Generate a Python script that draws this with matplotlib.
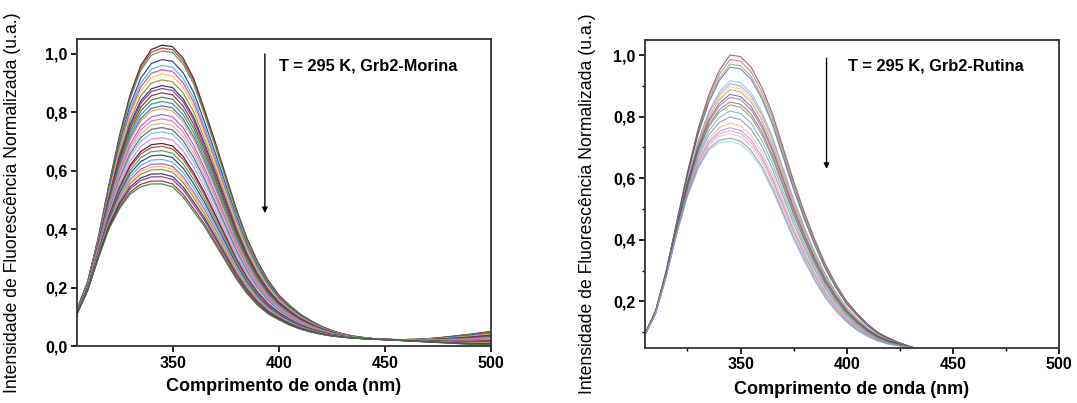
import matplotlib
matplotlib.use("Agg")
import matplotlib.pyplot as plt
from matplotlib.ticker import FixedLocator, FuncFormatter
import numpy as np

plt.rcParams['font.family'] = ['Liberation Sans', 'DejaVu Sans']

# wavelength grid (nm)
wavelength = [305, 310, 315, 320, 325, 330, 335, 340, 345, 350,
              355, 360, 365, 370, 375, 380, 385, 390, 395, 400,
              405, 410, 415, 420, 425, 430, 435, 440, 445, 450,
              455, 460, 465, 470, 475, 480, 485, 490, 495, 500]

# Grb2-Morina: highest and lowest spectra
morina_top = [0.125, 0.22, 0.37, 0.55, 0.72, 0.86, 0.96, 1.015, 1.03, 1.025,
              0.985, 0.915, 0.81, 0.70, 0.585, 0.47, 0.37, 0.29, 0.225, 0.175,
              0.14, 0.11, 0.087, 0.068, 0.053, 0.042, 0.034, 0.029, 0.025, 0.023,
              0.022, 0.022, 0.023, 0.025, 0.028, 0.032, 0.036, 0.04, 0.045, 0.05]
morina_bottom = [0.11, 0.19, 0.30, 0.40, 0.47, 0.52, 0.545, 0.555, 0.555, 0.545,
                 0.51, 0.46, 0.41, 0.35, 0.29, 0.23, 0.18, 0.14, 0.11, 0.09,
                 0.072, 0.058, 0.048, 0.04, 0.034, 0.03, 0.027, 0.025, 0.023, 0.022,
                 0.02, 0.018, 0.016, 0.014, 0.012, 0.01, 0.008, 0.006, 0.005, 0.004]
# peak height of each titration spectrum
morina_peaks = [1.03, 1.02, 1.01, 0.98, 0.96, 0.945, 0.93, 0.91, 0.89, 0.88,
                0.865, 0.85, 0.835, 0.82, 0.81, 0.79, 0.775, 0.76, 0.745, 0.73,
                0.71, 0.69, 0.68, 0.665, 0.65, 0.635, 0.62, 0.61, 0.60, 0.585,
                0.575, 0.56, 0.55]

# Grb2-Rutina
rutina_top = [0.095, 0.17, 0.30, 0.46, 0.62, 0.76, 0.87, 0.95, 1.0, 0.995,
              0.96, 0.895, 0.81, 0.70, 0.59, 0.49, 0.40, 0.32, 0.255, 0.20,
              0.16, 0.125, 0.098, 0.08, 0.065, 0.053, 0.042, 0.034, 0.027, 0.021,
              0.016, 0.012, 0.009, 0.007, 0.005, 0.004, 0.003, 0.002, 0.001, 0.0]
rutina_bottom = [0.09, 0.16, 0.28, 0.42, 0.54, 0.63, 0.69, 0.715, 0.72, 0.71,
                 0.68, 0.63, 0.56, 0.48, 0.40, 0.33, 0.265, 0.21, 0.167, 0.132,
                 0.105, 0.085, 0.07, 0.06, 0.055, 0.05, 0.044, 0.036, 0.029, 0.022,
                 0.017, 0.013, 0.01, 0.008, 0.006, 0.004, 0.003, 0.002, 0.001, 0.0]
rutina_peaks = [1.005, 0.99, 0.975, 0.965, 0.92, 0.91, 0.90, 0.89, 0.875, 0.865,
                0.85, 0.84, 0.82, 0.80, 0.78, 0.765, 0.755, 0.745, 0.73, 0.72]

colors = ['#2a1a1a', '#c83030', '#40a040', '#303090', '#40b8e0', '#d040c0',
          '#e8c840', '#909030', '#282870', '#8a3090', '#902828', '#2f7f3f',
          '#3a8f8f', '#4060c0', '#f0a040', '#9060e0', '#f070a0', '#b8b8b8',
          '#606060', '#70c0f0', '#e080e0']


def decimal_comma(v, pos):
    return ('%.1f' % v).replace('.', ',')


def draw_panel(ax, top, bottom, peaks, lw, alpha):
    top = np.array(top)
    bottom = np.array(bottom)
    pmax, pmin = max(peaks), min(peaks)
    for i, p in enumerate(peaks):
        f = (p - pmin) / (pmax - pmin)
        ax.plot(wavelength, bottom + (top - bottom) * f,
                color=colors[i % len(colors)], lw=lw, alpha=alpha)


fig = plt.figure(figsize=(10.77, 4.03), dpi=100)
ax1 = fig.add_axes([0.0715, 0.1414, 0.3844, 0.761])
ax2 = fig.add_axes([0.5989, 0.1377, 0.3844, 0.764])

draw_panel(ax1, morina_top, morina_bottom, morina_peaks, 0.9, 0.9)
draw_panel(ax2, rutina_top, rutina_bottom, rutina_peaks, 0.8, 0.6)

ax1.set_xlim(305, 500)
ax1.set_ylim(0, 1.05)
ax1.yaxis.set_major_locator(FixedLocator([0.0, 0.2, 0.4, 0.6, 0.8, 1.0]))

ax2.set_xlim(305, 500)
ax2.set_ylim(0.05, 1.05)
ax2.yaxis.set_major_locator(FixedLocator([0.2, 0.4, 0.6, 0.8, 1.0]))
ax2.yaxis.set_minor_locator(FixedLocator([0.1, 0.3, 0.5, 0.7, 0.9]))
ax2.xaxis.set_minor_locator(FixedLocator([325, 375, 425, 475]))

for ax in (ax1, ax2):
    ax.xaxis.set_major_locator(FixedLocator([350, 400, 450, 500]))
    ax.yaxis.set_major_formatter(FuncFormatter(decimal_comma))
    ax.tick_params(which='major', direction='out', length=4, width=1.2,
                   labelsize=11.5, pad=3, top=False, right=False)
    ax.tick_params(which='minor', direction='out', length=2.5, width=1.0)
    for lab in ax.get_xticklabels() + ax.get_yticklabels():
        lab.set_fontweight('bold')
    for s in ax.spines.values():
        s.set_linewidth(1.3)
        s.set_color('#333333')
    ax.set_xlabel("Comprimento de onda (nm)", fontsize=13, fontweight='bold')
    ax.set_ylabel("Intensidade de Fluorescência Normalizada (u.a.)", fontsize=12.7)

ax1.xaxis.set_label_coords(0.5, -0.104)
ax1.yaxis.set_label_coords(-0.135, 0.466)
ax2.xaxis.set_label_coords(0.5, -0.109)
ax2.yaxis.set_label_coords(-0.118, 0.466)

arrow = dict(arrowstyle='-|>', lw=1.0, color='black', mutation_scale=8,
             shrinkA=0, shrinkB=0)
ax1.annotate('', xy=(393.5, 0.455), xytext=(393.5, 1.0), arrowprops=arrow)
ax1.text(400, 0.957, "T = 295 K, Grb2-Morina", fontsize=11.8,
         fontweight='bold', va='center')
ax2.annotate('', xy=(390.5, 0.63), xytext=(390.5, 0.99), arrowprops=arrow)
ax2.text(400.5, 0.964, "T = 295 K, Grb2-Rutina", fontsize=11.8,
         fontweight='bold', va='center')

plt.savefig('out.png', dpi=100)
